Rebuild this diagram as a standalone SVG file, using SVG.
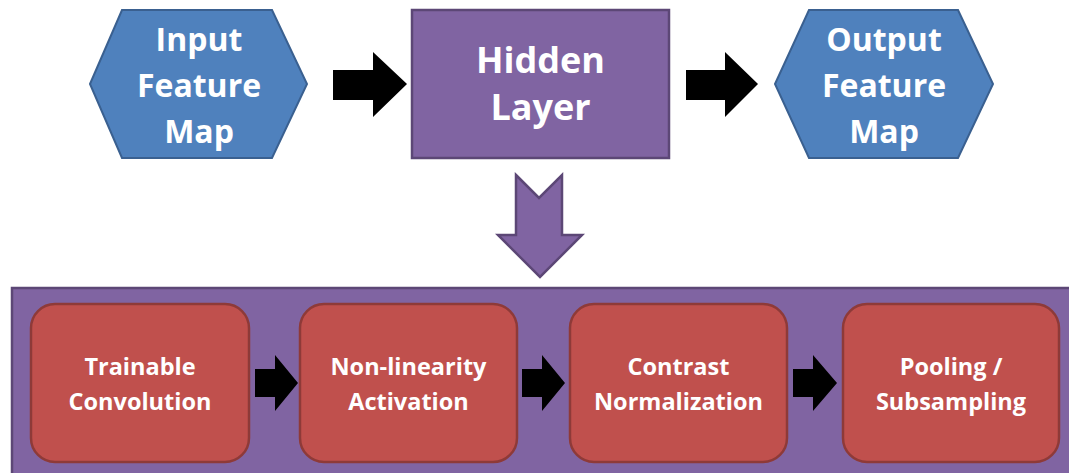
<svg xmlns="http://www.w3.org/2000/svg" width="1069" height="473" viewBox="0 0 1069 473">
  <style>
    .hex { fill: #4F81BD; stroke: #3A6090; stroke-width: 2; }
    .purple { fill: #8064A2; stroke: #5C4776; stroke-width: 2.5; }
    .red { fill: #C0504D; stroke: #8E3A38; stroke-width: 2.5; }
    .arrow { fill: #000000; }
    .t { font-family: "Open Sans", "Liberation Sans", sans-serif; font-weight: bold; fill: #FFFFFF; text-anchor: middle; }
    .big { font-size: 32px; }
    .huge { font-size: 36px; }
    .small { font-size: 23.5px; }
  </style>
  <rect x="0" y="0" width="1069" height="473" fill="#FFFFFF"/>

  <g id="input-feature-map">
    <polygon class="hex" points="90,84 122,10 272,10 307,84 272,158 122,158"/>
    <text class="t big" x="199" y="51">Input</text>
    <text class="t big" x="199" y="97">Feature</text>
    <text class="t big" x="199" y="143">Map</text>
  </g>

  <g id="hidden-layer">
    <rect class="purple" x="412" y="10" width="257" height="148"/>
    <text class="t huge" x="540.5" y="73">Hidden</text>
    <text class="t huge" x="540.5" y="120">Layer</text>
  </g>

  <g id="output-feature-map">
    <polygon class="hex" points="775,84 809,10 958,10 993,84 958,158 809,158"/>
    <text class="t big" x="884" y="51">Output</text>
    <text class="t big" x="884" y="97">Feature</text>
    <text class="t big" x="884" y="143">Map</text>
  </g>

  <g id="hidden-layer-detail">
    <rect class="purple" x="12" y="288" width="1070" height="200"/>
  </g>

  <g id="trainable-convolution">
    <rect class="red" x="31" y="304" width="218" height="158" rx="24" ry="24"/>
    <text class="t small" x="140" y="375">Trainable</text>
    <text class="t small" x="140" y="410">Convolution</text>
  </g>

  <g id="non-linearity-activation">
    <rect class="red" x="300" y="304" width="217" height="158" rx="24" ry="24"/>
    <text class="t small" x="408.5" y="375">Non-linearity</text>
    <text class="t small" x="408.5" y="410">Activation</text>
  </g>

  <g id="contrast-normalization">
    <rect class="red" x="570" y="304" width="217" height="158" rx="24" ry="24"/>
    <text class="t small" x="678.5" y="375">Contrast</text>
    <text class="t small" x="678.5" y="410">Normalization</text>
  </g>

  <g id="pooling-subsampling">
    <rect class="red" x="843" y="304" width="216" height="158" rx="24" ry="24"/>
    <text class="t small" x="951" y="375">Pooling /</text>
    <text class="t small" x="951" y="410">Subsampling</text>
  </g>

  <g id="connectors">
    <polygon class="arrow" points="333,70 373,70 373,52 407,84 373,117 373,100 333,100"/>
    <polygon class="arrow" points="686,70 725,70 725,52 758,84 725,117 725,100 686,100"/>
    <polygon class="purple" stroke-width="2" points="516,175 539,198 562,175 562,235 582,235 540,277 498,235 516,235"/>
    <polygon class="arrow" points="255,369 275,369 275,355 298,383 275,411 275,397 255,397"/>
    <polygon class="arrow" points="522,369 542,369 542,355 565,383 542,411 542,397 522,397"/>
    <polygon class="arrow" points="793,369 813,369 813,355 837,383 813,411 813,397 793,397"/>
  </g>
</svg>
